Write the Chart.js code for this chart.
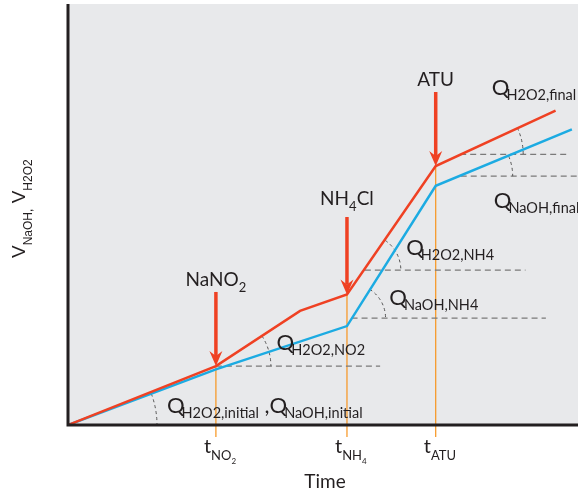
<!DOCTYPE html>
<html>
<head>
<meta charset="utf-8">
<script src="https://cdn.jsdelivr.net/npm/chart.js@4"></script>
<style>
  body { margin: 0; background: #fff; }
  canvas { display: block; }
</style>
</head>
<body>
<canvas id="chart" width="578" height="495"></canvas>
<script>
// Dosed volumes over time (arbitrary units, 0-100 on both axes)
const h2o2Time   = [0, 29.0, 45.5, 54.7, 72.1, 95.6];
const h2o2Volume = [0, 14.0, 27.1, 31.0, 61.5, 74.7];
const naohTime   = [0, 29.0, 54.7, 72.1, 98.8];
const naohVolume = [0, 13.2, 23.5, 56.8, 70.2];

// Additions (arrows) and their tick labels
const eventTimes = [29.0, 54.7, 72.1];
const eventNames = [
    [['NaNO', 0], ['2', 1]],
    [['NH', 0], ['4', 1], ['Cl', 0]],
    [['ATU', 0]]
];
const eventArrowTop   = [31.6, 49.4, 79.1];
const eventLabelLevel = [33.0, 52.3, 80.5];
const tickLabels = [
    [['t', 0], ['NO', 1], ['2', 2]],
    [['t', 0], ['NH', 1], ['4', 2]],
    [['t', 0], ['ATU', 1]]
];

// Horizontal dashed reference lines for the slopes
const refStart = [29.0, 55.6, 58.2, 76.9, 77.0];
const refEnd   = [61.2, 93.7, 89.7, 98.2, 100];
const refLevel = [14.0, 25.4, 36.8, 64.3, 59.1];

// Slope angle arcs: centre + the series segment that gives the angle
const arcCenterX = [0, 29.0, 55.6, 58.2, 76.9, 77.0];
const arcCenterY = [0, 14.0, 25.4, 36.8, 64.3, 59.1];
const arcSeries  = ['naoh', 'h2o2', 'naoh', 'h2o2', 'h2o2', 'naoh'];
const arcSegment = [0, 1, 2, 3, 4, 3];

// Slope labels
const slopeLabels = [
    [['Q', 0], ['H2O2,initial', 1], [' ,', 0], ['Q', 0], ['NaOH,initial', 1]],
    [['Q', 0], ['H2O2,NO2', 1]],
    [['Q', 0], ['NaOH,NH4', 1]],
    [['Q', 0], ['H2O2,NH4', 1]],
    [['Q', 0], ['H2O2,final', 1]],
    [['Q', 0], ['NaOH,final', 1]]
];
const slopeLabelX = [19.4, 40.9, 63.0, 66.3, 83.1, 83.5];
const slopeLabelY = [2.85, 17.8, 28.5, 40.4, 78.4, 51.5];

// styles
const RED = '#ef4123';
const BLUE = '#1cabe2';
const ORANGE = '#f7941d';
const INK = '#231f20';
const arcRadius = [89, 55, 34, 36, 63, 52];
const FONT = 'Lato, "Open Sans", sans-serif';
const ARIAL = '"Liberation Sans", Arial, sans-serif';

function drawRich(ctx, parts, x, y, fonts, align) {
    const widths = parts.map(([t, lv]) => {
        ctx.font = fonts[lv].size + 'px ' + fonts[lv].family;
        return ctx.measureText(t).width;
    });
    let total = 0;
    parts.forEach(([t, lv], i) => { total += widths[i] + (i > 0 ? (fonts[lv].dx || 0) : 0); });
    let cx = align === 'center' ? x - total / 2 : x;
    parts.forEach(([t, lv], i) => {
        const f = fonts[lv];
        if (i > 0) cx += f.dx || 0;
        ctx.font = f.size + 'px ' + f.family;
        ctx.fillText(t, cx, y + f.dy);
        cx += widths[i];
    });
}

const eventFonts = [{size: 19, dy: 0, family: FONT}, {size: 13, dy: 6, family: FONT}];
const qFonts = [{size: 22, dy: 0, family: FONT}, {size: 14.5, dy: 5, dx: -3, family: FONT}];
const tickFonts = [{size: 20, dy: 0, family: FONT}, {size: 13, dy: 7, family: FONT}, {size: 8, dy: 11, family: FONT}];
const yTitleFonts = [{size: 19, dy: 0, family: ARIAL}, {size: 12, dy: 7, family: ARIAL}];

function seriesPoints(name) {
    return name === 'h2o2'
        ? h2o2Time.map((t, i) => ({x: t, y: h2o2Volume[i]}))
        : naohTime.map((t, i) => ({x: t, y: naohVolume[i]}));
}

const underlay = {
    id: 'underlay',
    beforeDatasetsDraw(chart) {
        const {ctx, chartArea: a, scales: {x, y}} = chart;
        ctx.save();
        ctx.fillStyle = '#e8e9eb';
        ctx.fillRect(a.left, a.top, a.right - a.left, a.bottom - a.top);

        // vertical marker lines from the red kink down through the axis
        ctx.strokeStyle = ORANGE;
        ctx.lineWidth = 1.2;
        eventTimes.forEach(t => {
            const i = h2o2Time.indexOf(t);
            const px = x.getPixelForValue(t);
            ctx.beginPath();
            ctx.moveTo(px, y.getPixelForValue(h2o2Volume[i]));
            ctx.lineTo(px, a.bottom + 12);
            ctx.stroke();
        });

        // dashed reference lines
        ctx.strokeStyle = '#7a7a7a';
        ctx.lineWidth = 1.3;
        ctx.setLineDash([6, 4]);
        refLevel.forEach((lv, i) => {
            const py = y.getPixelForValue(lv);
            ctx.beginPath();
            ctx.moveTo(x.getPixelForValue(refStart[i]), py);
            ctx.lineTo(x.getPixelForValue(refEnd[i]), py);
            ctx.stroke();
        });

        // angle arcs
        ctx.strokeStyle = '#555';
        ctx.lineWidth = 1;
        ctx.setLineDash([3, 3]);
        arcCenterX.forEach((cxv, i) => {
            const pts = seriesPoints(arcSeries[i]);
            const p0 = pts[arcSegment[i]], p1 = pts[arcSegment[i] + 1];
            const ang = Math.atan2(y.getPixelForValue(p1.y) - y.getPixelForValue(p0.y),
                                   x.getPixelForValue(p1.x) - x.getPixelForValue(p0.x));
            ctx.beginPath();
            ctx.arc(x.getPixelForValue(cxv), y.getPixelForValue(arcCenterY[i]), arcRadius[i], ang, 0);
            ctx.stroke();
        });
        ctx.restore();
    }
};

const overlay = {
    id: 'overlay',
    afterDatasetsDraw(chart) {
        const {ctx, chartArea: a, scales: {x, y}} = chart;
        ctx.save();

        // arrows pointing at the red kinks
        eventTimes.forEach((t, i) => {
            const px = x.getPixelForValue(t);
            const tip = y.getPixelForValue(h2o2Volume[h2o2Time.indexOf(t)]);
            const top = y.getPixelForValue(eventArrowTop[i]);
            ctx.strokeStyle = RED;
            ctx.fillStyle = RED;
            ctx.lineWidth = 3.5;
            ctx.beginPath();
            ctx.moveTo(px, top);
            ctx.lineTo(px, tip - 10);
            ctx.stroke();
            ctx.beginPath();
            ctx.moveTo(px, tip);
            ctx.lineTo(px - 6.5, tip - 15);
            ctx.lineTo(px, tip - 10);
            ctx.lineTo(px + 6.5, tip - 15);
            ctx.closePath();
            ctx.fill();

            ctx.fillStyle = INK;
            drawRich(ctx, eventNames[i], px, y.getPixelForValue(eventLabelLevel[i]), eventFonts, 'center');
            drawRich(ctx, tickLabels[i], px - 12, a.bottom + 28, tickFonts, 'left');
        });

        // slope labels
        ctx.fillStyle = INK;
        slopeLabels.forEach((parts, i) => {
            drawRich(ctx, parts, x.getPixelForValue(slopeLabelX[i]), y.getPixelForValue(slopeLabelY[i]), qFonts, 'left');
        });

        // axes
        ctx.strokeStyle = INK;
        ctx.lineWidth = 3;
        ctx.beginPath();
        ctx.moveTo(a.left, a.top);
        ctx.lineTo(a.left, a.bottom);
        ctx.lineTo(a.right, a.bottom);
        ctx.stroke();

        // axis titles
        ctx.font = '19px ' + FONT;
        ctx.textAlign = 'center';
        ctx.fillText('Time', (a.left + a.right) / 2 + 2, a.bottom + 63);
        ctx.textAlign = 'left';
        ctx.translate(25, 258);
        ctx.rotate(-Math.PI / 2);
        drawRich(ctx, [['V', 0], ['NaOH,', 1], [' V', 0], ['H2O2', 1]], 0, 0, yTitleFonts, 'left');
        ctx.restore();
    }
};

new Chart(document.getElementById('chart'), {
    type: 'scatter',
    data: {
        datasets: [
            {
                label: 'H2O2',
                data: seriesPoints('h2o2'),
                showLine: true,
                borderColor: RED,
                borderWidth: 2.5,
                pointRadius: 0,
                tension: 0
            },
            {
                label: 'NaOH',
                data: seriesPoints('naoh'),
                showLine: true,
                borderColor: BLUE,
                borderWidth: 2.5,
                pointRadius: 0,
                tension: 0
            }
        ]
    },
    options: {
        responsive: false,
        animation: false,
        layout: { padding: { left: 68, top: 4, right: 0, bottom: 70 } },
        plugins: { legend: { display: false }, tooltip: { enabled: false } },
        scales: {
            x: { type: 'linear', min: 0, max: 100, display: false },
            y: { type: 'linear', min: 0, max: 100, display: false }
        }
    },
    plugins: [underlay, overlay]
});
</script>
</body>
</html>
